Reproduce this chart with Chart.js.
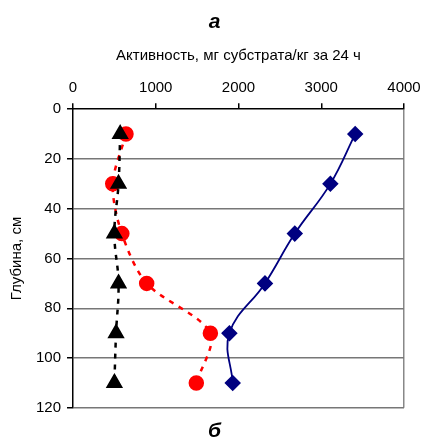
<!DOCTYPE html>
<html>
<head>
<meta charset="utf-8">
<script src="https://cdn.jsdelivr.net/npm/chart.js@4"></script>
<style>
  html, body { margin: 0; padding: 0; background: #fff; }
  #wrap { width: 421px; height: 448px; }
</style>
</head>
<body>
<div id="wrap"><canvas id="myChart" width="421" height="448"></canvas></div>
<script>
// глубина, см
const depths = [10, 30, 50, 70, 90, 110];
// активность, мг субстрата/кг за 24 ч
const blueValues = [3410, 3110, 2680, 2320, 1890, 1930];
const redValues = [640, 480, 590, 890, 1660, 1490];
const blackValues = [570, 550, 500, 550, 520, 500];
const xTicks = [0, 1000, 2000, 3000, 4000];
const yTicks = [0, 20, 40, 60, 80, 100, 120];

const toPoints = (vals) => vals.map((v, i) => ({ x: v, y: depths[i] }));
const font = { family: "'Liberation Sans', Arial, sans-serif", size: 15 };
const bigFont = { family: "'Liberation Sans', Arial, sans-serif", size: 21, weight: 'bold', style: 'italic' };

const data = {
  datasets: [
    {
      label: 'black',
      data: toPoints(blackValues),
      borderColor: '#000',
      backgroundColor: '#000',
      borderWidth: 2.5,
      borderDash: [5, 6],
      pointStyle: 'triangle',
      pointRadius: 7.5,
      tension: 0.4,
    },
    {
      label: 'red',
      data: toPoints(redValues),
      borderColor: '#ff0000',
      backgroundColor: '#ff0000',
      borderWidth: 2.5,
      borderDash: [5, 6],
      pointStyle: 'circle',
      pointRadius: 6.5,
      tension: 0.3,
    },
    {
      label: 'blue',
      data: toPoints(blueValues),
      borderColor: '#000080',
      backgroundColor: '#000080',
      borderWidth: 1.8,
      pointStyle: 'rectRot',
      pointRadius: 7,
      tension: 0.4,
    },
  ],
};

const config = {
  type: 'scatter',
  data: data,
  options: {
    responsive: false,
    animation: false,
    showLine: true,
    layout: { padding: { left: 8, right: 0, top: 2, bottom: 0 } },
    plugins: {
      legend: { display: false },
      tooltip: { enabled: false },
      title: {
        display: true,
        text: 'а',
        color: '#000',
        font: bigFont,
        padding: { top: 8, bottom: 12 },
      },
      subtitle: {
        display: true,
        position: 'bottom',
        text: 'б',
        color: '#000',
        font: bigFont,
        padding: { top: 11, bottom: 4 },
      },
    },
    scales: {
      x: {
        type: 'linear',
        position: 'top',
        min: 0,
        max: 4000,
        afterBuildTicks: (axis) => { axis.ticks = xTicks.map((v) => ({ value: v })); },
        afterFit: (axis) => { axis.paddingRight = 17; },
        title: {
          display: true,
          text: 'Активность, мг субстрата/кг за 24 ч',
          color: '#000',
          font: font,
          padding: { top: 0, bottom: 8 },
        },
        ticks: { color: '#000', font: font, padding: 6, maxRotation: 0, callback: (v) => String(v) },
        grid: {
          drawOnChartArea: true,
          drawTicks: true,
          tickLength: 6,
          tickColor: '#000',
          lineWidth: 1.5,
          color: (ctx) => (ctx.tick && ctx.tick.value === 4000 ? '#888' : 'rgba(0,0,0,0)'),
        },
        border: { display: true, color: '#000', width: 1.5 },
      },
      y: {
        type: 'linear',
        reverse: true,
        min: 0,
        max: 120,
        afterBuildTicks: (axis) => { axis.ticks = yTicks.map((v) => ({ value: v })); },
        title: {
          display: true,
          text: 'Глубина, см',
          color: '#000',
          font: font,
          padding: { top: 0, bottom: 4 },
        },
        ticks: { color: '#000', font: font, padding: 6, callback: (v) => String(v) },
        grid: {
          drawTicks: true,
          tickLength: 6,
          tickColor: '#000',
          lineWidth: 1.5,
          color: (ctx) => (ctx.tick && ctx.tick.value === 0 ? 'rgba(0,0,0,0)' : '#777'),
        },
        border: { display: true, color: '#000', width: 1.5 },
      },
    },
  },
};

const myChart = new Chart(document.getElementById('myChart'), config);
</script>
</body>
</html>
